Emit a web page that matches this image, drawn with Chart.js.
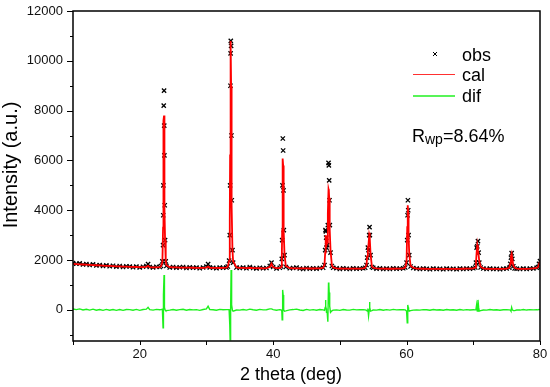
<!DOCTYPE html>
<html><head><meta charset="utf-8">
<script src="https://cdn.jsdelivr.net/npm/chart.js@4.4.0/dist/chart.umd.min.js"></script>
<style>html,body{margin:0;padding:0;background:#fff;}#wrap{width:550px;height:387px;}</style>
</head><body><div id="wrap"><canvas id="c" width="550" height="387"></canvas></div>
<script>
const twoTheta = [
 10,10.5,11,11.5,12,12.5,13,13.5,14,14.5,15,15.5,16,16.5,17,17.5,18,18.5,19,19.5,20,20.5,21,21.25,21.5,22,22.5,23,
 23.2,23.4,23.5,23.525,23.55,23.6,23.65,23.675,23.7,23.75,23.8,23.9,24,
 24.5,25,25.5,26,26.5,27,27.5,28,28.5,29,29.5,30,30.25,30.5,31,31.5,32,32.5,33,
 33.2,33.4,33.5,33.55,33.6,33.625,33.65,33.7,33.75,33.8,33.9,34,
 34.5,35,35.5,36,36.5,37,37.5,38,38.5,39,39.5,39.75,40,40.5,41,
 41.2,41.3,41.35,41.4,41.45,41.5,41.55,41.6,41.7,41.9,
 42.5,43,43.5,44,44.5,45,45.5,46,46.5,47,47.5,
 47.7,47.8,47.85,47.9,47.95,48,48.1,48.2,48.3,48.35,48.4,48.45,48.5,48.6,48.8,
 49,49.5,50,50.5,51,51.5,52,52.5,53,53.5,
 53.8,54,54.1,54.2,54.3,54.4,54.45,54.5,54.6,54.8,
 55,55.5,56,56.5,57,57.5,58,58.5,59,59.5,
 59.8,60,60.1,60.15,60.2,60.25,60.3,60.4,60.6,
 61,61.5,62,62.5,63,63.5,64,64.5,65,65.5,66,66.5,67,67.5,68,68.5,69,69.5,70,
 70.3,70.4,70.5,70.6,70.7,70.8,70.9,71.1,
 71.5,72,72.5,73,73.5,74,74.5,75,
 75.4,75.55,75.65,75.75,75.85,76,76.2,
 76.5,77,77.5,78,78.5,79,79.5,79.7,79.85,80
];
const obsI = [
 1880,1850,1870,1820,1840,1800,1830,1780,1800,1760,1790,1750,1770,1730,1760,1720,1750,1740,1710,1740,1700,1730,1760,1840,1720,1700,1730,1720,
 1760,1950,2600,3800,5000,8200,8800,7400,6200,4200,2800,1950,1760,
 1700,1720,1690,1710,1720,1680,1710,1690,1700,1670,1700,1740,1840,1700,1690,1670,1700,1690,1700,
 1740,1980,3000,5000,9000,10300,10800,10600,7000,4400,2400,1900,
 1700,1680,1700,1670,1720,1680,1660,1690,1670,1680,1760,1900,1720,1660,1690,
 1740,2050,2800,5000,6880,6400,4800,3200,2200,1720,
 1670,1680,1700,1660,1640,1680,1650,1670,1650,1680,1690,
 1800,2400,3200,3150,2900,2500,2600,3400,5900,5800,5200,4400,3400,2300,1760,
 1690,1670,1640,1670,1650,1640,1670,1650,1660,1670,
 1690,1800,2100,2500,2400,3000,3320,3000,2200,1720,
 1690,1650,1670,1640,1660,1640,1670,1650,1660,1670,
 1700,1900,2800,3800,4400,4000,3000,2200,1740,
 1680,1660,1640,1660,1650,1630,1660,1640,1650,1630,1660,1640,1650,1630,1660,1640,1660,1650,1670,
 1700,1900,2500,2550,2760,2300,1900,1700,
 1660,1640,1660,1640,1650,1630,1650,1660,
 1690,1850,2100,2280,2050,1750,1660,
 1650,1640,1660,1640,1660,1660,1690,1720,1850,1960
];
const calI = [
 1845,1838,1830,1822,1815,1808,1800,1792,1785,1778,1770,1763,1757,1750,1745,1740,1735,1730,1726,1722,1718,1715,1730,1770,1712,1710,1710,1715,
 1750,1920,3300,4300,5400,7600,7800,7000,6000,4100,2800,1980,1790,
 1712,1705,1703,1700,1698,1696,1694,1692,1690,1688,1687,1700,1740,1690,1684,1683,1682,1684,1692,
 1730,1970,3600,6200,9400,10400,10800,9000,6400,4200,2420,1950,
 1705,1690,1685,1680,1690,1676,1674,1672,1670,1675,1720,1860,1710,1675,1680,
 1740,2100,3200,5200,6080,5800,4600,3200,2250,1760,
 1672,1668,1670,1666,1664,1662,1660,1660,1662,1668,1690,
 1820,2300,2800,3000,2850,2600,2700,3880,4840,4780,4500,4000,3250,2400,1800,
 1700,1670,1660,1656,1654,1652,1652,1652,1655,1665,
 1690,1820,2150,2450,2640,3000,3100,2900,2250,1750,
 1690,1662,1655,1652,1650,1650,1650,1652,1656,1668,
 1700,1950,3320,4000,4200,3900,3000,2250,1770,
 1690,1660,1652,1650,1648,1646,1645,1644,1644,1644,1644,1644,1645,1646,1648,1650,1652,1656,1665,
 1700,1880,2300,2600,2400,2200,1950,1730,
 1665,1650,1646,1644,1643,1644,1648,1655,
 1690,1860,2150,2250,2050,1780,1690,
 1655,1648,1646,1648,1652,1662,1685,1720,1830,1950
];
const difI = [
 35,12,40,-2,25,-8,30,-12,15,-18,20,-13,13,-20,15,-20,15,10,-16,18,-18,15,30,100,8,-10,20,5,
 10,30,-720,-500,-400,600,1400,400,200,100,0,-30,-30,
 -12,15,-13,10,22,-16,16,-2,10,-18,13,40,150,10,6,-13,18,6,8,
 10,10,-600,-1200,-400,-100,0,1600,600,200,-20,-50,
 -5,-10,15,-10,30,4,-14,18,0,5,40,40,10,-15,10,
 0,-50,-400,-200,800,600,200,0,-50,-40,
 -2,12,30,-6,-24,18,-10,10,-12,12,0,
 -20,100,400,150,50,-100,-100,-480,1100,1000,700,400,150,-100,-40,
 -10,0,-20,14,-4,-12,18,-2,5,5,
 0,-20,-50,50,-240,0,320,100,-50,-30,
 0,-12,15,-12,10,-10,20,-2,4,2,
 0,-50,-520,-200,200,100,0,-50,-30,
 -10,0,-12,10,2,-16,15,-4,6,-14,16,-4,5,-16,12,-10,8,-6,5,
 0,20,200,-50,400,100,-50,-30,
 -5,-10,14,-4,7,-14,2,5,
 0,-10,-50,100,0,-30,-30,
 -5,-8,14,-8,8,-2,5,0,20,10
];
const xTickValues = [10,20,30,40,50,60,70,80];
const xTickLabels = ['','20','','40','','60','','80'];
const yTickValues = [-1000,0,1000,2000,3000,4000,5000,6000,7000,8000,9000,10000,11000,12000];
const yTickLabels = ['','0','','2000','','4000','','6000','','8000','','10000','','12000'];
const seriesNames = ['obs','cal','dif'];
const xTitle = '2 theta (deg)';
const yTitle = 'Intensity (a.u.)';

const FONT = '"Liberation Sans", Arial, Helvetica, sans-serif';
const toPts = arr => twoTheta.map((x,i)=>({x:x, y:arr[i]}));

const decor = {
  id:'decor',
  afterDraw(chart){
    const ctx = chart.ctx, a = chart.chartArea;
    const xs = chart.scales.x, ys = chart.scales.y;
    ctx.save();
    ctx.strokeStyle = '#000';
    ctx.lineWidth = 1.5;
    ctx.strokeRect(a.left, a.top, a.right-a.left, a.bottom-a.top);
    ctx.lineWidth = 1;
    ctx.beginPath();
    xTickValues.forEach((v,i)=>{
      const px = Math.round(xs.getPixelForValue(v))+0.5;
      ctx.moveTo(px, a.bottom); ctx.lineTo(px, a.bottom + 4);
    });
    yTickValues.forEach((v,i)=>{
      const py = Math.round(ys.getPixelForValue(v))+0.5;
      const len = yTickLabels[i] ? 6 : 3;
      ctx.moveTo(a.left, py); ctx.lineTo(a.left - len, py);
    });
    ctx.stroke();
    ctx.fillStyle = '#000';
    ctx.font = '18px ' + FONT;
    ctx.textAlign = 'center';
    ctx.textBaseline = 'alphabetic';
    ctx.fillText(xTitle, 291, 380);
    ctx.save();
    ctx.translate(17, 165);
    ctx.rotate(-Math.PI/2);
    ctx.font = '20px ' + FONT;
    ctx.fillText(yTitle, 0, 0);
    ctx.restore();
    ctx.textAlign = 'left';
    ctx.font = '18px ' + FONT;
    ctx.strokeStyle = '#000';
    ctx.lineWidth = 1;
    ctx.beginPath();
    ctx.moveTo(433, 52); ctx.lineTo(437, 56);
    ctx.moveTo(437, 52); ctx.lineTo(433, 56);
    ctx.stroke();
    ctx.fillText(seriesNames[0], 462, 61);
    ctx.strokeStyle = '#ff3030';
    ctx.beginPath(); ctx.moveTo(413, 74.5); ctx.lineTo(455, 74.5); ctx.stroke();
    ctx.fillText(seriesNames[1], 462, 81);
    ctx.strokeStyle = '#20f020';
    ctx.lineWidth = 1.5;
    ctx.beginPath(); ctx.moveTo(413, 96); ctx.lineTo(455, 96); ctx.stroke();
    ctx.fillText(seriesNames[2], 462, 102);
    let x = 412;
    ctx.font = '18px ' + FONT;
    ctx.fillText('R', x, 142); x += ctx.measureText('R').width;
    ctx.font = '14px ' + FONT;
    ctx.fillText('wp', x, 144); x += ctx.measureText('wp').width;
    ctx.font = '18px ' + FONT;
    ctx.fillText('=8.64%', x, 142);
    ctx.restore();
  }
};

new Chart(document.getElementById('c'), {
  type:'scatter',
  data:{datasets:[
    {label:seriesNames[1], data:toPts(calI), showLine:true, borderColor:'#ff0000', borderWidth:1.8, pointRadius:0, order:0},
    {label:seriesNames[0], data:toPts(obsI), showLine:false, pointStyle:'crossRot', pointRadius:3, borderColor:'#000', backgroundColor:'#000', pointBorderWidth:1.3, order:1},
    {label:seriesNames[2], data:toPts(difI), showLine:true, borderColor:'#1ef01e', borderWidth:1.4, pointRadius:0, order:2}
  ]},
  options:{
    responsive:false, animation:false,
    layout:{padding:{left:0, top:11, right:10, bottom:0}},
    plugins:{legend:{display:false}, tooltip:{enabled:false}},
    scales:{
      x:{type:'linear', min:10, max:80,
        afterBuildTicks:s=>{s.ticks = xTickValues.map(v=>({value:v}));},
        afterFit:s=>{s.height = 46; s.paddingLeft = 0; s.paddingRight = 0;},
        grid:{display:false, drawTicks:false}, border:{display:false},
        ticks:{autoSkip:false, maxRotation:0, padding:6, color:'#111', font:{family:FONT, size:13},
          callback:v=>xTickLabels[xTickValues.indexOf(v)] ?? ''}
      },
      y:{type:'linear', min:-1250, max:12000,
        afterBuildTicks:s=>{s.ticks = yTickValues.map(v=>({value:v}));},
        afterFit:s=>{s.width = 73; s.paddingTop = 0; s.paddingBottom = 0;},
        grid:{display:false, drawTicks:false}, border:{display:false},
        ticks:{autoSkip:false, padding:10, color:'#111', font:{family:FONT, size:13},
          callback:v=>yTickLabels[yTickValues.indexOf(v)] ?? ''}
      }
    }
  },
  plugins:[decor]
});
</script></body></html>
